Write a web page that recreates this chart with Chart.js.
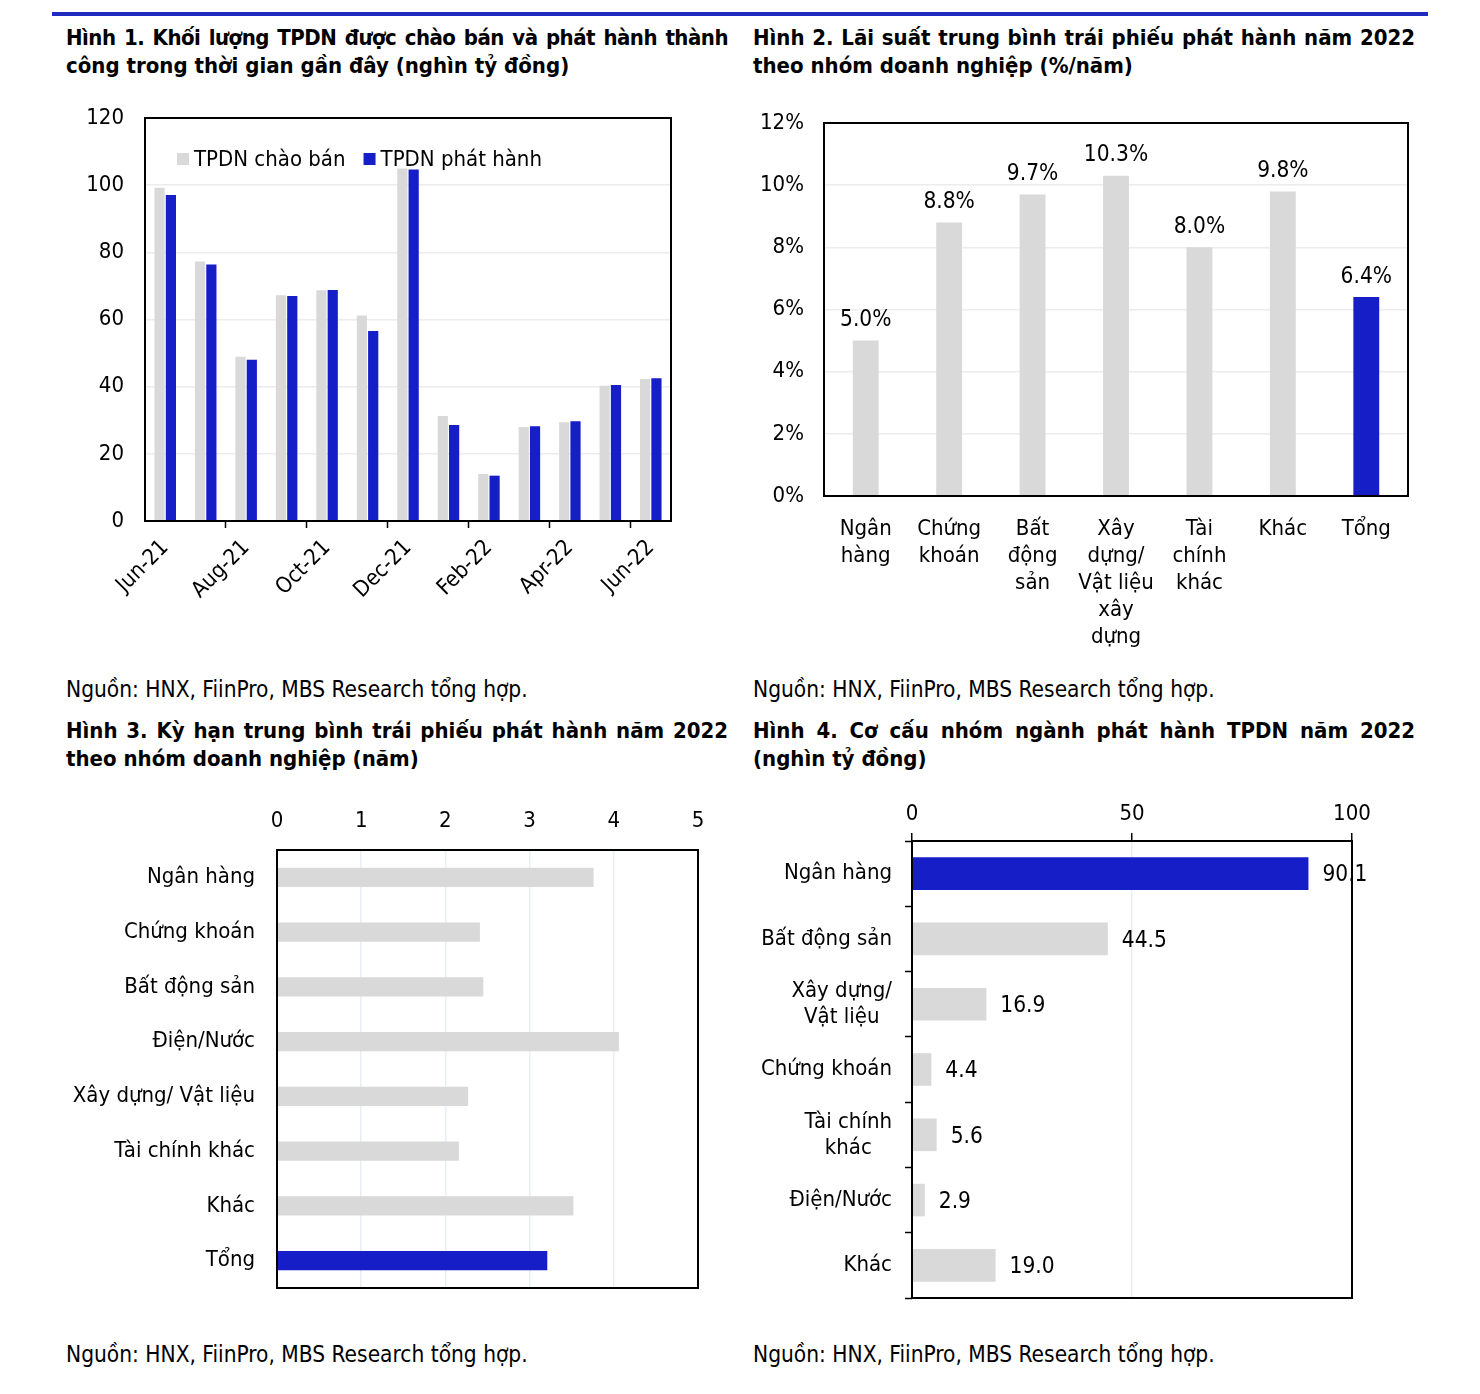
<!DOCTYPE html>
<html>
<head>
<meta charset="utf-8">
<script src="https://cdn.jsdelivr.net/npm/chart.js@4.4.1/dist/chart.umd.min.js"></script>
<style>
body{margin:0;background:#fff;width:1480px;height:1394px;position:relative;overflow:hidden;font-family:"DejaVu Sans Condensed","DejaVu Sans",sans-serif;color:#000}
.topline{position:absolute;left:52px;top:12px;width:1376px;height:4px;background:#1f2bbf}
.title{position:absolute;width:662px;font-weight:bold;font-size:22px;line-height:28px}
.title .l1{text-align:justify;text-align-last:justify}
.title .tight{letter-spacing:-0.5px}
.src{position:absolute;font-size:22.5px;line-height:26px}
.box{position:absolute}
</style>
</head>
<body>
<div class="topline"></div>
<div class="title" style="left:66px;top:24px"><div class="l1 tight">Hình 1. Khối lượng TPDN được chào bán và phát hành thành</div><div>công trong thời gian gần đây (nghìn tỷ đồng)</div></div>
<div class="title" style="left:753px;top:24px"><div class="l1">Hình 2. Lãi suất trung bình trái phiếu phát hành năm 2022</div><div>theo nhóm doanh nghiệp (%/năm)</div></div>
<div class="title" style="left:66px;top:717px"><div class="l1">Hình 3. Kỳ hạn trung bình trái phiếu phát hành năm 2022</div><div>theo nhóm doanh nghiệp (năm)</div></div>
<div class="title" style="left:753px;top:717px"><div class="l1">Hình 4. Cơ cấu nhóm ngành phát hành TPDN năm 2022</div><div>(nghìn tỷ đồng)</div></div>
<div class="src" style="left:66px;top:676px">Nguồn: HNX, FiinPro, MBS Research tổng hợp.</div>
<div class="src" style="left:753px;top:676px">Nguồn: HNX, FiinPro, MBS Research tổng hợp.</div>
<div class="src" style="left:66px;top:1341px">Nguồn: HNX, FiinPro, MBS Research tổng hợp.</div>
<div class="src" style="left:753px;top:1341px">Nguồn: HNX, FiinPro, MBS Research tổng hợp.</div>

<div class="box" style="left:60px;top:100px;width:630px;height:545px"><canvas id="c1"></canvas></div>
<div class="box" style="left:740px;top:100px;width:690px;height:560px"><canvas id="c2"></canvas></div>
<div class="box" style="left:40px;top:795px;width:680px;height:510px"><canvas id="c3"></canvas></div>
<div class="box" style="left:740px;top:790px;width:690px;height:520px"><canvas id="c4"></canvas></div>

<script>
const FONT = '"DejaVu Sans Condensed","DejaVu Sans",sans-serif';
const FS = 22;
const GRAY = '#d9d9d9';
const BLUE = '#161ec8';

// Hinh 1
const months = ['Jun-21','Jul-21','Aug-21','Sep-21','Oct-21','Nov-21','Dec-21','Jan-22','Feb-22','Mar-22','Apr-22','May-22','Jun-22'];
const offered = [99.2, 77.3, 48.9, 67.2, 68.7, 61.2, 105.0, 31.3, 14.0, 28.0, 29.4, 40.3, 42.3];
const issued = [97.1, 76.4, 48.0, 67.0, 68.8, 56.6, 104.7, 28.6, 13.5, 28.2, 29.7, 40.5, 42.5];

// Hinh 2
const rateCats = [['Ngân','hàng'],['Chứng','khoán'],['Bất','động','sản'],['Xây','dựng/','Vật liệu','xây','dựng'],['Tài','chính','khác'],['Khác'],['Tổng']];
const rates = [5.0, 8.8, 9.7, 10.3, 8.0, 9.8, 6.4];

// Hinh 3
const termCats = ['Ngân hàng','Chứng khoán','Bất động sản','Điện/Nước','Xây dựng/ Vật liệu','Tài chính khác','Khác','Tổng'];
const terms = [3.76, 2.41, 2.45, 4.06, 2.27, 2.16, 3.52, 3.21];

// Hinh 4
const sectorCats = ['Ngân hàng','Bất động sản',['Xây dựng/','Vật liệu'],'Chứng khoán',['Tài chính','khác'],'Điện/Nước','Khác'];
const sectorVals = [90.1, 44.5, 16.9, 4.4, 5.6, 2.9, 19.0];

Chart.defaults.font.family = FONT;
Chart.defaults.font.size = FS;
Chart.defaults.color = '#000';
Chart.defaults.animation = false;
Chart.defaults.responsive = true;
Chart.defaults.maintainAspectRatio = false;
Chart.defaults.plugins.legend.display = false;
Chart.defaults.plugins.tooltip.enabled = false;

const colorsFor = (n, hi) => Array.from({length:n}, (_, i) => i === hi ? BLUE : GRAY);

// fixed axis thickness, no extra label padding pushed into the chart area
function fix(size){
  return function(s){
    if (s.isHorizontal()) s.height = size; else s.width = size;
    s.paddingTop = 0; s.paddingBottom = 0; s.paddingLeft = 0; s.paddingRight = 0;
  };
}

const frame = {
  id: 'frame',
  afterDraw(chart){
    const a = chart.chartArea, ctx = chart.ctx;
    ctx.save();
    ctx.strokeStyle = '#000';
    ctx.lineWidth = 2;
    ctx.strokeRect(a.left, a.top, a.right - a.left, a.bottom - a.top);
    ctx.restore();
  }
};

const valueLabels = {
  id: 'valueLabels',
  afterDatasetsDraw(chart, args, opts){
    if (!opts || !opts.show) return;
    const ctx = chart.ctx;
    const meta = chart.getDatasetMeta(0);
    const data = chart.data.datasets[0].data;
    ctx.save();
    ctx.fillStyle = '#000';
    ctx.font = '22.5px ' + FONT;
    meta.data.forEach((bar, i) => {
      const txt = opts.format(data[i]);
      if (opts.side === 'top'){
        ctx.textAlign = 'center'; ctx.textBaseline = 'bottom';
        ctx.fillText(txt, bar.x, bar.y - 9);
      } else {
        ctx.textAlign = 'left'; ctx.textBaseline = 'middle';
        ctx.fillText(txt, bar.x + 14, bar.y + 2);
      }
    });
    ctx.restore();
  }
};

// category labels: block right-aligned, lines centred within the block
const blockLabels = {
  id: 'blockLabels',
  afterDraw(chart, args, opts){
    if (!opts || !opts.show) return;
    const s = chart.scales.y, ctx = chart.ctx;
    ctx.save();
    ctx.font = FS + 'px ' + FONT;
    ctx.fillStyle = '#000';
    ctx.textAlign = 'center';
    ctx.textBaseline = 'middle';
    chart.data.labels.forEach((lbl, i) => {
      const lines = Array.isArray(lbl) ? lbl : [lbl];
      const w = Math.max(...lines.map(t => ctx.measureText(t).width));
      const cx = s.right - opts.gap - w / 2;
      const y0 = s.getPixelForTick(i) - (lines.length - 1) * opts.lineH / 2;
      lines.forEach((t, k) => ctx.fillText(t, cx, y0 + k * opts.lineH));
    });
    ctx.restore();
  }
};

const insideLegend = {
  id: 'insideLegend',
  afterDraw(chart){
    const a = chart.chartArea, ctx = chart.ctx;
    let x = a.left + 32, y = a.top + 41;
    ctx.save();
    ctx.font = FS + 'px ' + FONT;
    ctx.textBaseline = 'middle';
    ctx.textAlign = 'left';
    chart.data.datasets.forEach(ds => {
      ctx.fillStyle = ds.backgroundColor;
      ctx.fillRect(x, y - 6, 12, 12);
      ctx.fillStyle = '#000';
      ctx.fillText(ds.label, x + 17, y + 1);
      x += 17 + ctx.measureText(ds.label).width + 18;
    });
    ctx.restore();
  }
};

new Chart(document.getElementById('c1'), {
  type: 'bar',
  data: {
    labels: months,
    datasets: [
      {label: 'TPDN chào bán', data: offered, backgroundColor: GRAY, categoryPercentage: 0.56, barPercentage: 0.9},
      {label: 'TPDN phát hành', data: issued, backgroundColor: BLUE, categoryPercentage: 0.56, barPercentage: 0.9}
    ]
  },
  options: {
    layout: {padding: {top: 18, right: 19, left: 0, bottom: 0}},
    scales: {
      x: {
        afterFit: fix(124),
        grid: {offset: true, drawOnChartArea: false, tickLength: 7, tickWidth: 1.5,
               tickColor: c => (c.index % 2 === 0 && c.index > 0 && c.index < months.length) ? '#000' : 'rgba(0,0,0,0)'},
        border: {display: false},
        ticks: {autoSkip: false, maxRotation: 45, minRotation: 45, padding: 7,
                callback: (v, i) => i % 2 === 0 ? months[i] : ''}
      },
      y: {
        afterFit: fix(85),
        min: 0, max: 120,
        border: {display: false},
        grid: {color: '#ececec', lineWidth: 1.5, drawTicks: false},
        ticks: {stepSize: 20, padding: 21}
      }
    }
  },
  plugins: [frame, insideLegend]
});

new Chart(document.getElementById('c2'), {
  type: 'bar',
  data: {
    labels: rateCats,
    datasets: [{data: rates, backgroundColor: colorsFor(rates.length, 6), categoryPercentage: 1, barPercentage: 0.31}]
  },
  options: {
    layout: {padding: {top: 23, right: 22, left: 0, bottom: 0}},
    plugins: {valueLabels: {show: true, side: 'top', format: v => v.toFixed(1) + '%'}},
    scales: {
      x: {
        afterFit: fix(164),
        grid: {display: false},
        border: {display: false},
        ticks: {padding: 12, font: {size: FS, lineHeight: 1.23}, maxRotation: 0, autoSkip: false}
      },
      y: {
        afterFit: fix(84),
        min: 0, max: 12,
        border: {display: false},
        grid: {color: '#ececec', lineWidth: 1.5, drawTicks: false},
        ticks: {stepSize: 2, padding: 20, callback: v => v + '%'}
      }
    }
  },
  plugins: [frame, valueLabels]
});

new Chart(document.getElementById('c3'), {
  type: 'bar',
  data: {
    labels: termCats,
    datasets: [{data: terms, backgroundColor: colorsFor(terms.length, 7), categoryPercentage: 1, barPercentage: 0.35}]
  },
  options: {
    indexAxis: 'y',
    layout: {padding: {top: 0, right: 22, left: 0, bottom: 17}},
    plugins: {blockLabels: {show: true, gap: 22, lineH: 26}},
    scales: {
      x: {
        position: 'top',
        afterFit: fix(55),
        min: 0, max: 5,
        border: {display: false},
        grid: {color: '#e8edf6', lineWidth: 1.5, drawTicks: false},
        ticks: {stepSize: 1, padding: 16}
      },
      y: {
        afterFit: fix(237),
        grid: {display: false},
        border: {display: false},
        ticks: {display: false}
      }
    }
  },
  plugins: [frame, blockLabels]
});

new Chart(document.getElementById('c4'), {
  type: 'bar',
  data: {
    labels: sectorCats,
    datasets: [{data: sectorVals, backgroundColor: colorsFor(sectorVals.length, 0), categoryPercentage: 1, barPercentage: 0.5}]
  },
  options: {
    indexAxis: 'y',
    layout: {padding: {top: 0, right: 78, left: 0, bottom: 12}},
    plugins: {
      valueLabels: {show: true, side: 'right', format: v => v.toFixed(1)},
      blockLabels: {show: true, gap: 20, lineH: 26}
    },
    scales: {
      x: {
        position: 'top',
        afterFit: fix(51),
        min: 0, max: 100,
        border: {display: false},
        grid: {color: '#e8edf6', lineWidth: 1.5, tickColor: '#000', tickLength: 8, tickWidth: 1.5},
        ticks: {stepSize: 50, padding: 6}
      },
      y: {
        afterFit: fix(172),
        border: {display: false},
        grid: {offset: true, drawOnChartArea: false, tickColor: '#000', tickLength: 7, tickWidth: 1.5},
        ticks: {display: false}
      }
    }
  },
  plugins: [frame, valueLabels, blockLabels]
});
</script>
</body>
</html>
